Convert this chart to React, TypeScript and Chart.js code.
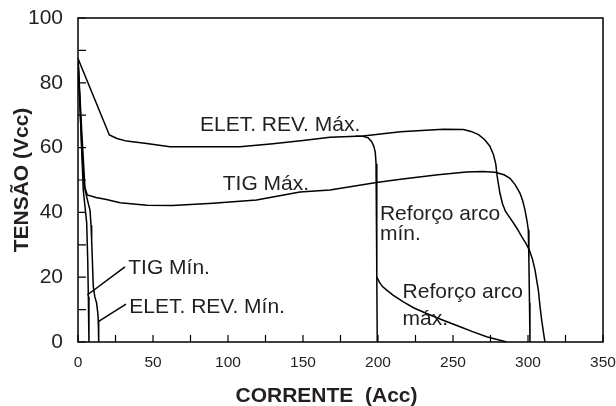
import React, { useEffect, useRef } from "react";
import { Chart, registerables } from "chart.js";

Chart.register(...registerables);

// ---- data (x = corrente A, y = tensão V) ----
const eletRevMax: [number, number][] = [
  [0, 87.5], [20.9, 63.9], [26, 62.8], [32.4, 62], [45.8, 61.3], [61.3, 60.3], [108, 60.3],
  [130, 61.2], [150, 62.2], [168, 63.2], [190, 63.6], [215, 64.9], [243.5, 65.7], [257, 65.6],
  [262, 65.0], [267, 64.0], [271, 62.5], [274.5, 60.5], [277, 57.8], [278.5, 55], [279.5, 51],
  [281.3, 45.9], [283, 42.7], [285, 40.3], [288, 38.3], [290.2, 36.8], [293, 34.8], [295.8, 32.5],
  [298.5, 30.5], [300.9, 28.4], [303, 25.5], [304.7, 22.2], [306, 18.5], [306.9, 16], [308, 11],
  [309.1, 6.8], [310.3, 3], [311.3, 0],
];
const tigMax: [number, number][] = [
  [0, 87.5], [2.5, 60], [4, 48.5], [6.2, 45.4], [12, 44.6], [19, 44], [28, 43], [46, 42.2],
  [63, 42.1], [90, 42.8], [119, 43.8], [148, 46.3], [168, 46.9], [199, 49.2], [215, 50.2],
  [240, 51.6], [259, 52.5], [270, 52.6], [278, 52.4], [284, 51.6], [288, 50.5], [291.5, 48.5],
  [294.7, 45.9], [296.5, 43.5], [298, 40.7], [299.3, 37.5], [300.2, 34.6], [300.6, 25], [301, 12],
  [301.3, 0],
];
const reforcoMin: [number, number][] = [
  [185, 63.5], [190, 63.5], [193.5, 63.0], [195.8, 61.8], [197.3, 60.3], [198.2, 58.5],
  [198.7, 55], [199.2, 20], [199.5, 0],
];
const reforcoMax: [number, number][] = [
  [199.2, 20], [201, 18.4], [203, 17.1], [205.8, 16], [210, 14.5], [216.9, 12.4], [224, 10.5],
  [232.4, 8.8], [243, 6.8], [254.7, 4.7], [263, 3.2], [272.4, 1.6], [285.8, 0],
];
const tigMin: [number, number][] = [
  [0, 87.5], [2, 65], [3.5, 47], [5.8, 36.7], [6.5, 25], [6.9, 14], [7.3, 0],
];
const eletRevMin: [number, number][] = [
  [0, 87.5], [2.5, 65], [4.7, 47], [7, 42.5], [8, 40.7], [8.7, 36], [9.1, 31.5], [10.2, 17.1],
  [11.2, 14], [12.4, 12], [13.2, 9], [13.5, 6.8], [13.8, 0],
];
const leaderTigMin: [number, number][] = [[6.2, 14.5], [31.3, 23.2]];
const leaderEletMin: [number, number][] = [[13.5, 6.3], [32, 11.7]];

const seriesList = [eletRevMax, tigMax, reforcoMin, reforcoMax, tigMin, eletRevMin, leaderTigMin, leaderEletMin];
const seriesNames = ["ELET. REV. Máx.", "TIG Máx.", "Reforço arco mín.", "Reforço arco máx.", "TIG Mín.", "ELET. REV. Mín.", "leader1", "leader2"];

// ---- text labels anchored in data coordinates (left, baseline) ----
const labelTexts = ["ELET. REV. Máx.", "TIG Máx.", "Reforço arco", "mín.", "Reforço arco", "máx.", "TIG Mín.", "ELET. REV. Mín."];
const labelX = [81.3, 96.5, 201.3, 201.3, 216.4, 216.4, 33.5, 34.2];
const labelY = [65.0, 46.9, 37.7, 31.5, 13.5, 5.2, 21.0, 9.0];

// ---- axes ----
const xMin = 0, xMax = 350, xStep = 50;
const yMin = 0, yMax = 100, yStep = 20;
const xMinorTicks = [0, 25, 50, 75, 100, 125, 150, 175, 200, 225, 250, 275, 300, 325, 350];
const yMinorTicks = [0, 10, 20, 30, 40, 50, 60, 70, 80, 90, 100];
const xTitle = "CORRENTE  (Acc)";
const yTitle = "TENSÃO (Vcc)";

const FONT = "'Liberation Sans', Arial, Helvetica, sans-serif";
const TEXT = "#231f20";

const overlayPlugin = {
  id: "overlay",
  afterDraw(chart: any) {
    const ctx = chart.ctx;
    const xs = chart.scales.x;
    const ys = chart.scales.y;
    const { left, right, top, bottom } = chart.chartArea;
    ctx.save();
    ctx.strokeStyle = "#000";
    ctx.lineWidth = 1.5;
    ctx.strokeRect(left, top, right - left, bottom - top);
    ctx.lineWidth = 1.2;
    ctx.beginPath();
    yMinorTicks.forEach((v) => {
      const py = ys.getPixelForValue(v);
      ctx.moveTo(left, py);
      ctx.lineTo(left + 8, py);
    });
    xMinorTicks.forEach((v) => {
      const px = xs.getPixelForValue(v);
      ctx.moveTo(px, bottom);
      ctx.lineTo(px, bottom - 7);
    });
    ctx.stroke();

    ctx.fillStyle = TEXT;
    ctx.font = `21px ${FONT}`;
    ctx.textAlign = "left";
    ctx.textBaseline = "alphabetic";
    labelTexts.forEach((t, i) => {
      ctx.fillText(t, xs.getPixelForValue(labelX[i]), ys.getPixelForValue(labelY[i]));
    });

    ctx.font = `bold 21px ${FONT}`;
    ctx.textAlign = "center";
    ctx.fillText(xTitle, (left + right) / 2 - 14, chart.height - 4.5);
    ctx.restore();
  },
};

export default function App() {
  const ref = useRef<HTMLCanvasElement | null>(null);
  useEffect(() => {
    if (!ref.current) return;
    const chart = new Chart(ref.current, {
      type: "line",
      data: {
        datasets: seriesList.map((s, i) => ({
          label: seriesNames[i],
          data: s.map(([x, y]) => ({ x, y })),
          borderColor: "#000",
          borderWidth: 1.5,
          pointRadius: 0,
          tension: 0,
          fill: false,
        })),
      },
      options: {
        animation: false,
        responsive: true,
        maintainAspectRatio: false,
        layout: { padding: { top: 18, right: 13, bottom: 0, left: 0 } },
        plugins: { legend: { display: false }, tooltip: { enabled: false } },
        scales: {
          x: {
            type: "linear",
            min: xMin,
            max: xMax,
            afterFit: (s: any) => { s.height = 64; s.paddingLeft = 0; s.paddingRight = 0; },
            grid: { display: false, drawTicks: false },
            border: { display: false },
            ticks: { stepSize: xStep, padding: 11, color: TEXT, font: { size: 15.5, family: FONT } },
            title: { display: false, text: xTitle },
          },
          y: {
            type: "linear",
            min: yMin,
            max: yMax,
            afterFit: (s: any) => { s.width = 78; s.paddingTop = 0; s.paddingBottom = 0; },
            grid: { display: false, drawTicks: false },
            border: { display: false },
            ticks: { stepSize: yStep, padding: 15, color: TEXT, font: { size: 21, family: FONT } },
            title: {
              display: true,
              text: yTitle,
              color: TEXT,
              font: { size: 21, weight: "bold", family: FONT },
              padding: { top: 10, bottom: 0 },
            },
          },
        },
      },
      plugins: [overlayPlugin],
    });
    return () => chart.destroy();
  }, []);
  return (
    <div style={{ position: "fixed", left: 0, top: 0, width: 616, height: 406, overflow: "hidden", background: "#fff" }}>
      <canvas ref={ref} style={{ display: "block" }} />
    </div>
  );
}
